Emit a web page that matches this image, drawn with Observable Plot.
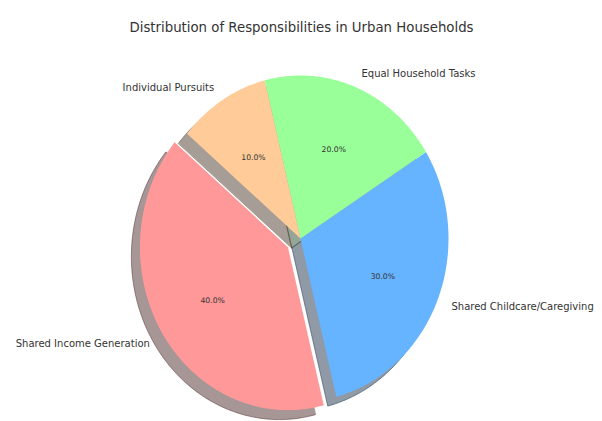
<!DOCTYPE html>
<html><head><meta charset="utf-8">
<script src="https://cdn.jsdelivr.net/npm/d3@7"></script>
<script src="https://cdn.jsdelivr.net/npm/@observablehq/plot@0.6"></script>
<style>body{margin:0;background:#fff;}</style>
</head><body><div id="chart"></div>
<script>
const title = "Distribution of Responsibilities in Urban Households";
const labels = ["Shared Income Generation", "Shared Childcare/Caregiving", "Equal Household Tasks", "Individual Pursuits"];
const values = [40, 30, 20, 10];
const colors = ["#ff9999", "#66b3ff", "#99ff99", "#ffcc99"];
const explode = [0.1, 0, 0, 0];

const startAngle = 140, shadowOff = 0.058, labelDist = 1.1, pctDist = 0.6;
const total = d3.sum(values);
let acc = startAngle;
const slices = values.map((v, i) => {
  const a0 = acc, a1 = acc + 360 * v / total; acc = a1;
  const mid = (a0 + a1) / 2 * Math.PI / 180;
  return {i, label: labels[i], value: v, color: colors[i], a0, a1, mid,
          cx: explode[i] * Math.cos(mid), cy: explode[i] * Math.sin(mid)};
});
function wedge(s, dx, dy) {
  const pts = [{x: s.cx + dx, y: s.cy + dy}];
  const n = Math.ceil(s.a1 - s.a0);
  for (let k = 0; k <= n; k++) {
    const a = (s.a0 + (s.a1 - s.a0) * k / n) * Math.PI / 180;
    pts.push({x: s.cx + dx + Math.cos(a), y: s.cy + dy + Math.sin(a)});
  }
  return pts;
}
const marks = [];
slices.forEach(s => {
  const c = d3.rgb(s.color);
  const sc = d3.rgb(c.r * 0.3, c.g * 0.3, c.b * 0.3).formatHex();
  marks.push(Plot.line(wedge(s, -shadowOff, -shadowOff), {x: "x", y: "y", curve: "linear-closed",
    fill: sc, fillOpacity: 0.5, stroke: sc, strokeOpacity: 0.5, strokeWidth: 1}));
});
slices.forEach(s => {
  marks.push(Plot.line(wedge(s, 0, 0), {x: "x", y: "y", curve: "linear-closed", fill: s.color, stroke: "none"}));
});
const labelData = slices.map(s => ({
  text: s.label,
  x: s.cx + labelDist * Math.cos(s.mid), y: s.cy + labelDist * Math.sin(s.mid),
  anchor: Math.cos(s.mid) < 0 ? "end" : "start"
}));
const pctData = slices.map(s => ({
  text: (100 * s.value / total).toFixed(1) + "%",
  x: s.cx + pctDist * Math.cos(s.mid), y: s.cy + pctDist * Math.sin(s.mid)
}));
marks.push(Plot.text(labelData.filter(d => d.anchor === "end"), {x: "x", y: "y", dy: 1.5, text: "text", textAnchor: "end", fontSize: 10, fill: "#333"}));
marks.push(Plot.text(labelData.filter(d => d.anchor === "start"), {x: "x", y: "y", dy: 1.5, text: "text", textAnchor: "start", fontSize: 10, fill: "#333"}));
marks.push(Plot.text(pctData, {x: "x", y: "y", dy: 1.5, text: "text", fontSize: 7.7, fill: "#333"}));
marks.push(Plot.text([title], {frameAnchor: "top", dy: 22, text: d => d, fontSize: 13.3, fill: "#333"}));

const chart = Plot.plot({
  width: 602, height: 421, margin: 0,
  x: {domain: [-300 / 148, 302 / 148], axis: null},
  y: {domain: [-(421 - 238) / 163, 238 / 163], axis: null},
  style: {fontFamily: "DejaVu Sans", background: "#fff"},
  marks
});
document.getElementById("chart").appendChild(chart);
</script>
</body></html>
